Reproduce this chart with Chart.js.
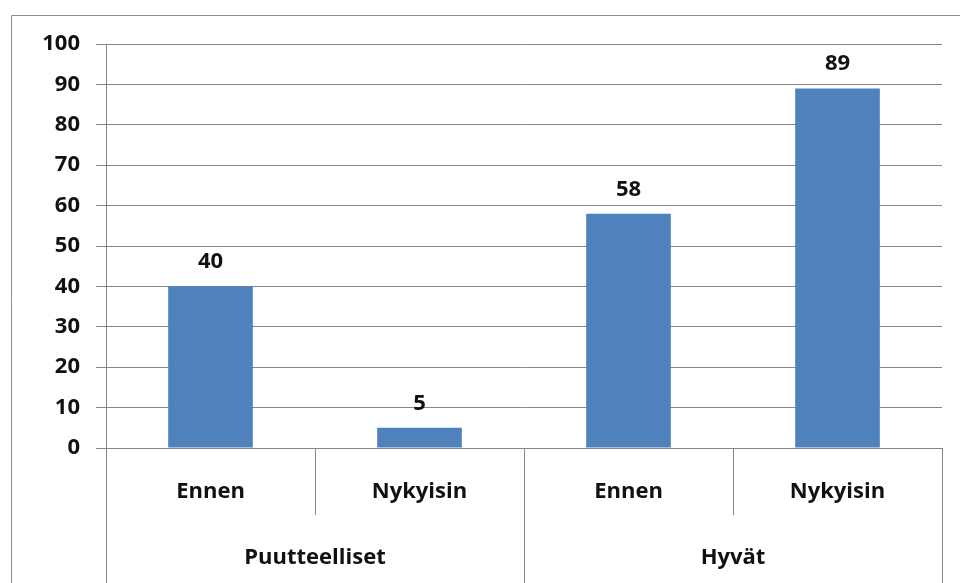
<!DOCTYPE html>
<html>
<head>
<meta charset="utf-8">
<script src="https://cdn.jsdelivr.net/npm/chart.js@4"></script>
<style>
  html, body { margin: 0; padding: 0; background: #fff; }
  #wrap { width: 960px; height: 583px; position: relative; }
</style>
</head>
<body>
<div id="wrap"><canvas id="chart" width="960" height="583"></canvas></div>
<script>
// Data
const subLabels = ['Ennen', 'Nykyisin', 'Ennen', 'Nykyisin'];
const groupLabels = ['Puutteelliset', 'Hyvät'];
const values = [40, 5, 58, 89];

const FONT = "'Open Sans', sans-serif";
const GRID = '#868686';

// value labels above bars
const valueLabels = {
  id: 'valueLabels',
  afterDatasetsDraw(chart) {
    const ctx = chart.ctx;
    const meta = chart.getDatasetMeta(0);
    ctx.save();
    ctx.font = 'bold 22px ' + FONT;
    ctx.fillStyle = '#111';
    ctx.textAlign = 'center';
    ctx.textBaseline = 'alphabetic';
    meta.data.forEach((bar, i) => {
      ctx.fillText(String(values[i]), bar.x, bar.y - 18);
    });
    ctx.restore();
  }
};

// outer frame + category dividers
const frame = {
  id: 'frame',
  afterDraw(chart) {
    const ctx = chart.ctx;
    const area = chart.chartArea;
    const x = chart.scales.x;
    const x2 = chart.scales.x2;
    ctx.save();
    ctx.strokeStyle = '#8c8c8c';
    ctx.lineWidth = 1;
    ctx.beginPath();
    ctx.moveTo(11.5, 583);
    ctx.lineTo(11.5, 15.5);
    ctx.lineTo(960, 15.5);
    ctx.stroke();

    ctx.strokeStyle = GRID;
    const w = (area.right - area.left) / subLabels.length;
    ctx.beginPath();
    for (let i = 0; i <= subLabels.length; i++) {
      const px = Math.round(area.left + i * w) + 0.5;
      ctx.moveTo(px, x.top);
      ctx.lineTo(px, x.bottom);
      if (i % 2 === 0) {
        ctx.moveTo(px, x2.top);
        ctx.lineTo(px, x2.bottom);
      }
    }
    ctx.stroke();
    ctx.restore();
  }
};

new Chart(document.getElementById('chart'), {
  type: 'bar',
  data: {
    labels: subLabels,
    datasets: [{
      data: values,
      backgroundColor: '#4f81bd',
      borderWidth: 0,
      barPercentage: 0.405,
      categoryPercentage: 1
    }]
  },
  options: {
    responsive: false,
    animation: false,
    layout: { padding: { top: 44, right: 18, bottom: 0, left: 0 } },
    plugins: {
      legend: { display: false },
      tooltip: { enabled: false }
    },
    scales: {
      y: {
        min: 0,
        max: 100,
        ticks: {
          stepSize: 10,
          padding: 16,
          color: '#111',
          font: { family: FONT, size: 22, weight: 'bold' }
        },
        grid: { color: GRID, tickLength: 10 },
        border: { color: GRID },
        afterFit(scale) { scale.width = 106; }
      },
      x: {
        grid: { display: false },
        border: { color: GRID },
        ticks: {
          padding: 23,
          maxRotation: 0,
          color: '#111',
          font: { family: FONT, size: 22, weight: 'bold' }
        },
        afterFit(scale) { scale.height = 67; }
      },
      x2: {
        type: 'category',
        position: 'bottom',
        labels: groupLabels,
        offset: true,
        grid: { display: false },
        border: { display: false },
        ticks: {
          padding: 22,
          maxRotation: 0,
          color: '#111',
          font: { family: FONT, size: 22, weight: 'bold' }
        },
        afterFit(scale) { scale.height = 68; }
      }
    }
  },
  plugins: [valueLabels, frame]
});
</script>
</body>
</html>
